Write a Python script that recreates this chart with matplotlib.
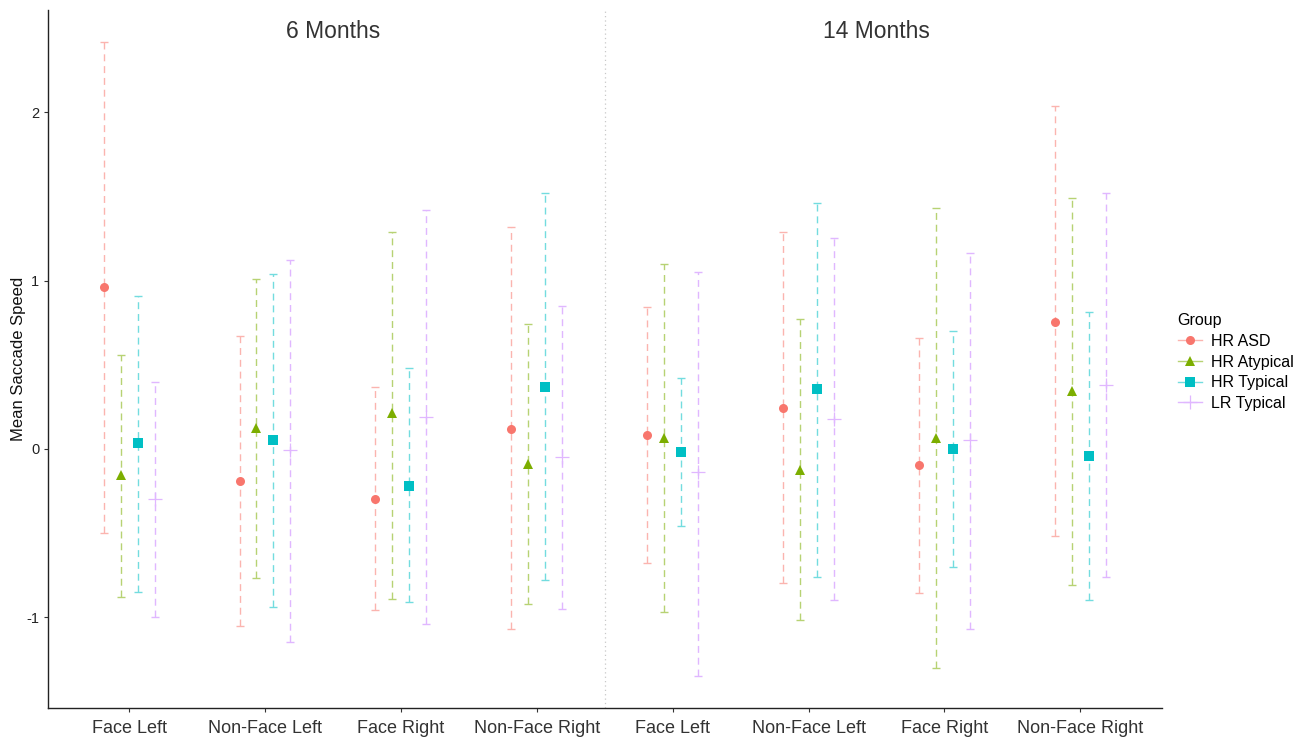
import matplotlib

matplotlib.use("Agg")
import matplotlib.pyplot as plt
import numpy as np
from matplotlib.colors import to_rgb
from matplotlib.lines import Line2D

plt.rcParams["font.family"] = ["Liberation Sans", "DejaVu Sans"]

CONDITIONS = ["Face Left", "Non-Face Left", "Face Right", "Non-Face Right"] * 2
AGES = ["6 Months", "14 Months"]
GROUPS = ["HR ASD", "HR Atypical", "HR Typical", "LR Typical"]
COLORS = ["#F8766D", "#7CAE00", "#00BFC4", "#C77CFF"]
MARKERS = ["o", "^", "s", "+"]

# one row per group, one column per condition (6 months then 14 months)
MEANS = {
    "HR ASD": [0.96, -0.19, -0.30, 0.12, 0.08, 0.245, -0.095, 0.755],
    "HR Atypical": [-0.155, 0.125, 0.21, -0.09, 0.065, -0.125, 0.065, 0.345],
    "HR Typical": [0.035, 0.05, -0.22, 0.37, -0.02, 0.355, 0.0, -0.04],
    "LR Typical": [-0.30, -0.01, 0.19, -0.05, -0.14, 0.18, 0.05, 0.38],
}
UPPER = {
    "HR ASD": [2.42, 0.67, 0.37, 1.32, 0.84, 1.29, 0.66, 2.04],
    "HR Atypical": [0.56, 1.01, 1.29, 0.74, 1.10, 0.77, 1.43, 1.49],
    "HR Typical": [0.91, 1.04, 0.48, 1.52, 0.42, 1.46, 0.70, 0.815],
    "LR Typical": [0.40, 1.12, 1.42, 0.85, 1.05, 1.25, 1.165, 1.52],
}
LOWER = {
    "HR ASD": [-0.50, -1.05, -0.96, -1.07, -0.68, -0.80, -0.855, -0.52],
    "HR Atypical": [-0.88, -0.77, -0.89, -0.92, -0.97, -1.02, -1.30, -0.81],
    "HR Typical": [-0.85, -0.94, -0.91, -0.78, -0.46, -0.76, -0.70, -0.90],
    "LR Typical": [-1.00, -1.15, -1.04, -0.95, -1.35, -0.90, -1.07, -0.76],
}


def lighten(color: str, amount: float = 0.5) -> tuple:
    r, g, b = to_rgb(color)
    return (r + (1 - r) * amount, g + (1 - g) * amount, b + (1 - b) * amount)


def main() -> None:
    fig = plt.figure(figsize=(13.07, 7.39), dpi=100)
    ax = fig.add_axes([0.0364, 0.042, 0.8525, 0.945])

    x = np.arange(1, len(CONDITIONS) + 1)
    offsets = [-0.1875, -0.0625, 0.0625, 0.1875]
    handles = []
    for group, color, marker, off in zip(GROUPS, COLORS, MARKERS, offsets):
        mean = np.array(MEANS[group])
        lo = np.array(LOWER[group])
        hi = np.array(UPPER[group])
        light = lighten(color, 0.45)
        _, caps, bars = ax.errorbar(
            x + off, mean, yerr=[mean - lo, hi - mean], fmt="none",
            ecolor=light, elinewidth=1.0, capsize=2.6, capthick=1.0, zorder=2,
        )
        bars[0].set_linestyle((0, (5, 3.5)))
        if marker == "+":
            ax.plot(x + off, mean, linestyle="none", marker="+", markersize=10,
                    markeredgewidth=0.9, color=light, zorder=3)
            h = Line2D([], [], color=light, lw=1.0, marker="+", markersize=10,
                       markeredgewidth=0.9)
        else:
            ms = 7.5 if marker == "^" else 6.5
            ax.plot(x + off, mean, linestyle="none", marker=marker, markersize=ms,
                    color=color, markeredgewidth=0, zorder=3)
            h = Line2D([], [], color=light, lw=1.0, marker=marker, markersize=ms,
                       markerfacecolor=color, markeredgewidth=0)
        handles.append(h)

    ax.axvline(4.5, color="#c8c8c8", lw=0.9, linestyle=(0, (1, 2.5)), zorder=1)
    for age, xc in zip(AGES, [2.5, 6.5]):
        ax.text(xc, 2.48, age, ha="center", va="center", fontsize=16.5, color="#333333")

    ax.set_xlim(0.4, 8.6)
    ax.set_ylim(-1.54, 2.61)
    ax.set_xticks(x, CONDITIONS)
    ax.set_yticks([-1, 0, 1, 2], ["-1", "0", "1", "2"])
    ax.tick_params(axis="x", labelsize=13, colors="#333333", length=3, width=0.8,
                   pad=6, color="#333333")
    ax.tick_params(axis="y", labelsize=10.5, colors="#222222", length=3, width=0.8,
                   pad=3, color="#333333")
    ax.set_ylabel("Mean Saccade Speed", fontsize=12, color="#111111", labelpad=0)
    for side in ["top", "right"]:
        ax.spines[side].set_visible(False)
    for side in ["left", "bottom"]:
        ax.spines[side].set_color("#222222")
        ax.spines[side].set_linewidth(1.0)

    fig.legend(handles, GROUPS, title="Group", loc="center left",
               bbox_to_anchor=(0.89, 0.51), frameon=False, fontsize=11.5,
               title_fontsize=11.5, handlelength=1.5, handletextpad=0.6,
               labelspacing=0.35, alignment="left")

    fig.savefig("out.png", dpi=100)
    plt.close(fig)


if __name__ == "__main__":
    main()
